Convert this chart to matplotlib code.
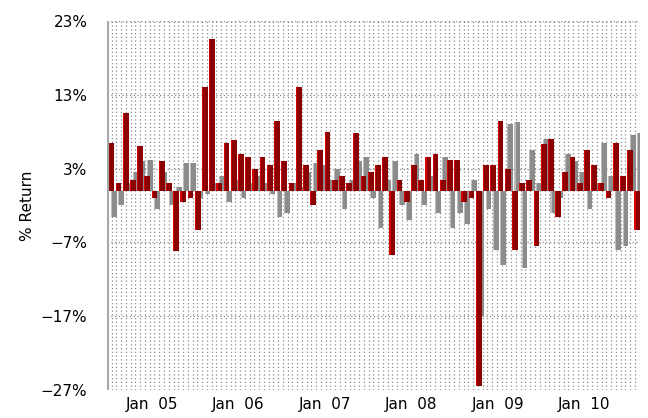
import numpy as np
import matplotlib.pyplot as plt

# monthly returns, Jul 2004 .. Aug 2010
red = [6.5, 1.0, 10.5, 1.5, 6.0, 2.0, -1.0, 4.0, 1.0, -8.2, -1.5, -1.0,
       -5.3, 14.0, 20.5, 1.0, 6.5, 6.8, 5.0, 4.5, 3.0, 4.5, 3.5, 9.5,
       4.0, 1.0, 14.0, 3.5, -2.0, 5.5, 8.0, 1.5, 2.0, 1.0, 7.8, 2.0,
       2.5, 3.5, 4.5, -8.7, 1.5, -1.5, 3.5, 1.5, 4.5, 5.0, 1.5, 4.2,
       4.2, -1.5, -1.0, -26.5, 3.5, 3.5, 9.5, 3.0, -8.0, 1.0, 1.5, -7.5,
       6.3, 7.0, -3.5, 2.5, 4.5, 1.0, 5.5, 3.5, 1.0, -1.0, 6.5, 2.0,
       5.5, -5.3]
gray = [-3.5, -2.0, 1.0, 2.5, 4.0, 4.2, -2.5, 2.5, -2.0, 0.5, 3.8, 3.8,
        -1.0, -0.5, 1.0, 2.0, -1.5, 1.5, -1.0, 1.0, 2.0, 1.0, -0.5, -3.5,
        -3.0, 1.0, 0.5, 2.5, 3.8, 3.5, 1.5, 3.0, -2.5, 1.5, 4.0, 4.5,
        -1.0, -5.0, 1.5, 4.0, -2.0, -4.0, 5.0, -2.0, 2.0, -3.0, 4.5, -5.0,
        -3.0, -4.5, 1.5, -17.0, -2.5, -8.0, -10.0, 9.0, 9.3, -10.5, 5.5, 1.0,
        7.0, -3.0, -1.0, 5.0, 4.0, 2.5, -2.5, 1.0, 6.5, 2.0, -8.0, -7.5,
        7.5, 7.8]
yticks = [23, 13, 3, -7, -17, -27]
xlabels = ["Jan  05", "Jan  06", "Jan  07", "Jan  08", "Jan  09", "Jan  10"]
jan_idx = [6, 18, 30, 42, 54, 66]

x = np.arange(len(red))

fig = plt.figure(figsize=(6.48, 4.18), dpi=100)
ax = fig.add_axes([0.165, 0.067, 0.823, 0.883])

# dotted background grid
for gx in np.arange(-0.25, 73.8, 0.66):
    ax.axvline(gx, color='#8a8a8a', ls=(0, (1, 2)), lw=0.9, zorder=0)
for t in yticks:
    ax.axhline(t, color='#8a8a8a', ls=(0, (1, 2)), lw=0.9, zorder=0)

# back row (gray), shifted right
ax.bar(x + 0.3, gray, width=0.8, color='#8c8c8c', align='edge', zorder=2)
ax.bar(x + 0.3, gray, width=0.15, color='#bdbdbd', align='edge', zorder=2)
# front row (red)
ax.bar(x - 0.05, red, width=0.8, color='#8b0000', align='edge', zorder=3)
ax.bar(x - 0.05, red, width=0.15, color='#d80000', align='edge', zorder=3)

ax.axvline(-0.25, color='#a8a8a8', lw=3, zorder=4)

ax.set_xlim(-0.25, 73.75)
ax.set_ylim(-27, 23)
ax.set_yticks(yticks)
ax.set_yticklabels([f"{t}%".replace('-', '\u2212') for t in yticks], fontsize=11)
ax.set_xticks(jan_idx)
ax.set_xticklabels(xlabels, fontsize=11)
ax.tick_params(axis='x', length=0, pad=5)
ax.tick_params(axis='y', length=0, pad=14)
ax.set_ylabel("% Return", fontsize=11, labelpad=4)
for s in ax.spines.values():
    s.set_visible(False)

fig.savefig("out.png", dpi=100)
